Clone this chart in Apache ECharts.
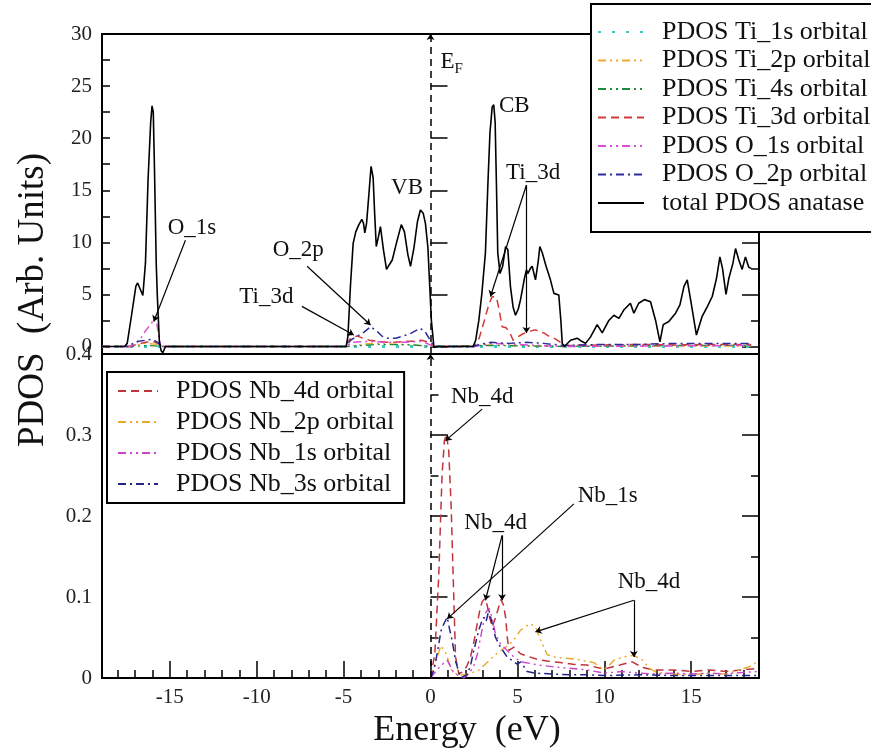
<!DOCTYPE html>
<html>
<head>
<meta charset="utf-8">
<script src="https://cdn.jsdelivr.net/npm/echarts@6/dist/echarts.min.js"></script>
<style>
html,body{margin:0;padding:0;background:#fff;}
#chart{width:871px;height:753px;}
</style>
</head>
<body>
<div id="chart"></div>
<script>
// ---------------- DATA ----------------
// Energy axis (eV)
const xTickLabels = ['-15', '-10', '-5', '0', '5', '10', '15'];
const topYTickLabels = ['0', '5', '10', '15', '20', '25', '30'];
const bottomYTickLabels = ['0', '0.1', '0.2', '0.3', '0.4'];

// Top panel: total PDOS anatase
const totalE = [-18.9,-17.6,-17.45,-17.2,-16.95,-16.85,-16.7,-16.55,-16.4,-16.25,-16.1,-16.02,-15.95,-15.88,-15.78,-15.72,-15.6,-15.5,-15.4,-15.25,
  -4.85,-4.75,-4.6,-4.45,-4.3,-4.12,-3.95,-3.85,-3.78,-3.68,-3.55,-3.42,-3.3,-3.22,-3.12,-3.0,-2.88,-2.7,-2.53,-2.35,-2.2,-1.95,-1.68,-1.5,-1.3,-1.15,-0.95,-0.75,-0.58,-0.42,-0.29,-0.15,-0.05,0.05,0.2,0.35,
  2.45,2.6,2.78,2.95,3.16,3.3,3.42,3.55,3.64,3.72,3.8,3.87,4.0,4.15,4.32,4.45,4.6,4.75,4.89,5.05,5.18,5.4,5.52,5.6,5.75,5.85,6.04,6.2,6.29,6.43,6.65,6.9,7.1,7.38,7.5,7.58,7.7,
  8.06,8.44,8.7,8.92,9.2,9.59,9.88,10.26,10.55,10.84,11.12,11.5,11.7,11.98,12.31,12.66,12.95,13.2,13.39,13.71,14.1,14.35,14.58,14.77,15.0,15.3,15.63,15.92,16.21,16.45,16.65,16.8,17.0,17.16,17.4,17.55,17.74,17.93,18.12,18.31,18.45];
const totalV = [0,0,0.3,3.0,5.8,6.1,5.5,4.9,8,16,21.5,23.1,22.5,17,8.0,5.0,0.5,-0.4,-0.6,0,
  0,1.0,6,9.9,11.0,11.7,12.2,11.8,10.9,11.8,14.5,17.3,16.2,13,9.6,10.5,11.5,9.2,7.4,7.9,8.3,10.0,11.7,11.0,8.8,7.7,9.5,12.0,13.1,12.8,11.8,9.5,6,2.5,-0.1,0,
  0,0.6,2.5,5,9,15.5,20.5,23.0,23.2,21.5,15,9,7,7.7,9.6,9.3,5.75,3.8,3.0,3.6,4.5,6.5,7.36,7.0,7.5,7.7,6.4,8.2,9.6,9.0,7.7,6.4,5.1,4.95,2.5,0.3,0,
  0.6,0.8,0.5,0.3,0.9,2.1,1.3,2.5,3.0,2.7,3.5,4.15,3.2,4.15,4.5,4.3,2.5,0.45,2.1,2.4,3.2,4.0,5.75,6.4,4.15,1.1,2.9,3.8,4.8,6.5,8.6,7.5,5.0,6.5,8.0,9.4,8.3,7.4,8.6,7.6,7.5];

// Top panel: Ti_3d
const ti3dE = [-18.9,-17.3,-16.9,-16.4,-16.0,-15.7,-15.4,-4.9,-4.7,-4.5,-4.2,-3.9,-3.5,-3.0,-2.5,-2.0,-1.5,-1.0,-0.5,-0.1,0.2,
  2.5,2.8,3.1,3.35,3.55,3.8,3.95,4.12,4.35,4.6,4.75,5.0,5.3,5.56,5.8,6.04,6.3,6.52,6.8,7.1,7.4,7.67,8,10,12,14,16,18.45];
const ti3dV = [0,0,0.2,0.4,0.5,0.3,0,0,0.6,0.9,1.0,0.8,0.6,0.5,0.4,0.4,0.5,0.5,0.6,0.4,0,
  0,0.8,2.5,4.0,4.8,4.7,3.5,1.9,1.8,1.2,0.6,0.9,1.2,1.4,1.5,1.6,1.4,1.3,1.0,0.8,0.5,0.1,0.1,0.15,0.2,0.15,0.2,0.2];

// Top panel: O_2p
const o2pE = [-18.9,-17.4,-17.1,-16.8,-16.4,-16.0,-15.7,-15.4,-4.85,-4.6,-4.2,-3.8,-3.45,-3.1,-2.8,-2.5,-2.0,-1.6,-1.2,-0.6,-0.3,-0.05,0.2,
  2.5,2.8,3.5,4.5,5.5,6.5,7.6,10,12,14,16,18.45];
const o2pV = [0,0,0.3,0.5,0.6,0.7,0.4,0,0,0.6,1.0,1.4,1.9,1.5,1.0,0.8,0.8,1.0,1.2,1.75,1.4,0.7,0,
  0,0.2,0.4,0.3,0.4,0.3,0.1,0.2,0.2,0.3,0.3,0.3];

// Top panel: O_1s
const o1sE = [-18.9,-17.3,-17.0,-16.7,-16.4,-16.15,-15.95,-15.8,-15.68,-15.55,-15.4,-4.85,-4.5,-3.5,-2.5,-1.5,-0.5,0.2,2.5,3.5,5,7.6,18.45];
const o1sV = [0,0,0.3,0.7,1.5,2.0,2.5,2.7,1.5,0.3,0,0,0.4,0.5,0.4,0.4,0.5,0,0,0.3,0.2,0,0.1];

// Top panel: Ti_2p, Ti_4s, Ti_1s
const ti2pE = [-18.9,-17.2,-16.5,-15.6,-15.3,-4.8,-3.5,-1.5,0.2,3.5,7.6,18.45];
const ti2pV = [0,0,0.3,0.2,0,0,0.3,0.2,0,0.15,0,0.05];
const ti4sE = [-18.9,-17.2,-16.3,-15.4,-4.8,-3.0,-1.0,0.2,3.5,7.6,14,18.45];
const ti4sV = [0,0,0.1,0,0,0.2,0.15,0,0.1,0,0.1,0.1];
const ti1sE = [-18.9,18.45];
const ti1sV = [0,0];

// Bottom panel: Nb_4d
const nb4dE = [0,0.25,0.48,0.6,0.67,0.8,0.92,1.05,1.19,1.3,1.44,1.63,1.9,2.1,2.3,2.5,2.69,2.85,2.97,3.12,3.26,3.4,3.55,3.75,3.93,4.05,4.12,4.2,4.32,4.42,4.51,4.8,5.18,5.56,6.14,6.71,7.48,8.2,9.0,9.97,10.9,11.6,12.2,12.8,14,15,16,17,18,18.9];
const nb4dV = [0,0.03,0.129,0.21,0.252,0.293,0.301,0.28,0.211,0.129,0.026,0.005,0.008,0.015,0.026,0.045,0.067,0.085,0.094,0.098,0.09,0.075,0.063,0.075,0.088,0.097,0.098,0.09,0.075,0.05,0.034,0.038,0.030,0.027,0.023,0.021,0.019,0.017,0.016,0.011,0.016,0.02,0.013,0.01,0.01,0.008,0.01,0.008,0.01,0.012];

// Bottom panel: Nb_2p
const nb2pE = [0,0.3,0.6,0.9,1.2,1.6,2.2,2.8,3.3,3.8,4.3,4.6,4.9,5.18,5.5,5.75,6.04,6.33,6.71,7.1,7.48,8.0,8.44,8.9,9.4,9.7,9.97,10.3,10.55,11.12,11.7,12.2,12.6,13,14,15,16,17,17.8,18.5,18.9];
const nb2pV = [0,0.02,0.04,0.03,0.01,0.003,0.005,0.01,0.02,0.03,0.038,0.043,0.05,0.059,0.064,0.067,0.063,0.047,0.029,0.026,0.025,0.024,0.023,0.021,0.019,0.014,0.01,0.016,0.022,0.026,0.028,0.022,0.012,0.007,0.005,0.004,0.006,0.005,0.01,0.015,0.022];

// Bottom panel: Nb_1s
const nb1sE = [0,0.3,0.58,0.96,1.34,1.92,2.2,2.49,2.7,2.88,3.16,3.36,3.55,3.74,4.03,4.41,4.8,5.18,5.7,6.2,7,8,9,10,11,12,13,14,15,16,17,18,18.9];
const nb1sV = [0,0.008,0.015,0.022,0.006,0,0.005,0.015,0.03,0.05,0.08,0.086,0.074,0.054,0.042,0.034,0.026,0.02,0.018,0.016,0.014,0.012,0.01,0.006,0.008,0.006,0.005,0.006,0.005,0.006,0.005,0.007,0.008];

// Bottom panel: Nb_3s
const nb3sE = [0,0.2,0.4,0.6,0.77,0.96,1.1,1.25,1.44,1.73,2.1,2.3,2.49,2.78,2.95,3.07,3.2,3.36,3.55,3.74,4.03,4.41,4.99,5.2,5.56,6.0,7,8,9,10,12,14,16,18.9];
const nb3sV = [0,0.01,0.032,0.058,0.067,0.075,0.06,0.046,0.021,0,0.004,0.015,0.034,0.059,0.07,0.075,0.07,0.084,0.067,0.05,0.038,0.026,0.017,0.02,0.008,0.006,0.005,0.004,0.004,0.003,0.004,0.003,0.003,0.003];

// Annotations (data coordinates)
const topLabelText = ['O_1s', 'O_2p', 'Ti_3d', 'VB', 'CB', 'Ti_3d'];
const topLabelE = [-15.15, -9.11, -11.03, -2.3, 3.91, 4.32];
const topLabelV = [11.4, 9.3, 4.76, 15.2, 23.1, 16.7];
const topArrowFrom = [[-14.1, 10.2], [-7.1, 7.7], [-7.4, 3.85], [5.52, 15.5], [5.52, 15.5]];
const topArrowTo = [[-15.92, 2.4], [-3.45, 2.07], [-4.41, 1.1], [3.45, 4.8], [5.52, 1.3]];
const efLabelE = 0.55, efLabelV = 27.3;

const botLabelText = ['Nb_4d', 'Nb_1s', 'Nb_4d', 'Nb_4d'];
const botLabelE = [1.15, 8.44, 1.92, 10.74];
const botLabelV = [0.347, 0.225, 0.191, 0.119];
const botArrowFrom = [[2.97, 0.332], [8.25, 0.215], [4.12, 0.176], [4.12, 0.176], [11.7, 0.096], [11.7, 0.096]];
const botArrowTo = [[0.86, 0.293], [0.96, 0.073], [3.16, 0.096], [4.12, 0.096], [6.04, 0.057], [11.7, 0.026]];

// ---------------- CHART ----------------
const FONT = "'Liberation Serif', 'Times New Roman', serif";
const zip = (xs, ys) => xs.map((x, i) => [x, ys[i]]);
const XMIN = -18.9, XMAX = 18.9;
const isMult = (v, step) => Math.abs(v / step - Math.round(v / step)) < 1e-6;

const chart = echarts.init(document.getElementById('chart'), null, {renderer: 'canvas'});

function tickAxisY(grid, pos, step, len, labels, extra) {
  return Object.assign({
    type: 'value', gridIndex: grid, position: pos,
    minInterval: step, maxInterval: step,
    axisLine: {show: false},
    splitLine: {show: false},
    axisTick: {show: true, inside: true, length: len, lineStyle: {color: '#000', width: 1.5}},
    axisLabel: labels ? {
      show: true, fontSize: 21, fontFamily: FONT, color: '#222', margin: 10,
      formatter: v => isMult(v, step) ? labels[Math.round(v / step)] : ''
    } : {show: false}
  }, extra);
}

const lineSeries = (name, xi, yi, data, color, type, width, extra) => Object.assign({
  name, type: 'line', xAxisIndex: xi, yAxisIndex: yi, data,
  symbol: 'none', smooth: false, animation: false,
  lineStyle: {color, type, width}, itemStyle: {color}
}, extra);

const textPoint = (text, e, v) => ({
  name: text, coord: [e, v], symbol: 'circle', symbolSize: 1,
  itemStyle: {color: 'rgba(0,0,0,0)'},
  label: {show: true, position: 'right', distance: 0, formatter: text,
    color: '#111', fontSize: 23, fontFamily: FONT}
});
const arrowLine = (a, b) => [{coord: a}, {coord: b}];
const fermi = {xAxis: 0, symbol: 'none', lineStyle: {color: '#000', type: [7, 5], width: 1.5}};

const arrowStyle = {color: '#000', width: 1.2, type: 'solid'};

const topMarkLine = {
  silent: true, animation: false, symbol: ['none', 'arrow'], symbolSize: 6,
  label: {show: false}, lineStyle: arrowStyle,
  data: [fermi].concat(topArrowFrom.map((a, i) => arrowLine(a, topArrowTo[i])))
};
const topMarkPoint = {
  silent: true, animation: false,
  data: topLabelText.map((t, i) => textPoint(t, topLabelE[i], topLabelV[i])).concat([{
    name: 'EF', coord: [efLabelE, efLabelV], symbol: 'circle', symbolSize: 1,
    itemStyle: {color: 'rgba(0,0,0,0)'},
    label: {show: true, position: 'right', distance: 0, formatter: '{e|E}{f|F}',
      rich: {e: {fontSize: 23, fontFamily: FONT, color: '#111'},
             f: {fontSize: 15, fontFamily: FONT, color: '#111', padding: [14, 0, 0, 0]}}}
  }])
};
const botMarkLine = {
  silent: true, animation: false, symbol: ['none', 'arrow'], symbolSize: 6,
  label: {show: false}, lineStyle: arrowStyle,
  data: [fermi].concat(botArrowFrom.map((a, i) => arrowLine(a, botArrowTo[i])))
};
const botMarkPoint = {
  silent: true, animation: false,
  data: botLabelText.map((t, i) => textPoint(t, botLabelE[i], botLabelV[i]))
};

const topNames = ['PDOS Ti_1s orbital', 'PDOS Ti_2p orbital', 'PDOS Ti_4s orbital', 'PDOS Ti_3d orbital',
  'PDOS O_1s orbital', 'PDOS O_2p orbital', 'total PDOS anatase'];
const botNames = ['PDOS Nb_4d orbital', 'PDOS Nb_2p orbital', 'PDOS Nb_1s orbital', 'PDOS Nb_3s orbital'];

const DDOT = [8, 4, 2, 4, 2, 4];
const DOT1 = [8, 4, 2, 4];

const option = {
  animation: false,
  backgroundColor: '#fff',
  grid: [
    {left: 102, right: 112, top: 34, height: 320, show: true, borderColor: '#000', borderWidth: 2, backgroundColor: 'transparent'},
    {left: 102, right: 112, top: 354, height: 324, show: true, borderColor: '#000', borderWidth: 2, backgroundColor: 'transparent'}
  ],
  xAxis: [
    {type: 'value', gridIndex: 0, min: XMIN, max: XMAX, show: false},
    {type: 'value', gridIndex: 1, min: XMIN, max: XMAX, position: 'bottom',
      minInterval: 5, maxInterval: 5,
      axisLine: {show: false}, splitLine: {show: false},
      axisTick: {show: true, inside: true, length: 17, lineStyle: {color: '#000', width: 1.5}},
      axisLabel: {show: true, fontSize: 21, fontFamily: FONT, color: '#222', margin: 9,
        formatter: v => isMult(v, 5) ? xTickLabels[Math.round(v / 5) + 3] : ''}},
    {type: 'value', gridIndex: 1, min: XMIN, max: XMAX, position: 'bottom',
      minInterval: 1, maxInterval: 1,
      axisLine: {show: false}, splitLine: {show: false},
      axisTick: {show: true, inside: true, length: 8, lineStyle: {color: '#000', width: 1.5}},
      axisLabel: {show: false}}
  ],
  yAxis: [
    tickAxisY(0, 'left', 5, 17, topYTickLabels, {min: -0.72, max: 30}),
    tickAxisY(0, 'left', 2.5, 8, null, {min: -0.72, max: 30}),
    tickAxisY(0, 'right', 5, 17, null, {min: -0.72, max: 30}),
    tickAxisY(0, 'right', 2.5, 8, null, {min: -0.72, max: 30}),
    tickAxisY(1, 'left', 0.1, 17, bottomYTickLabels, {min: 0, max: 0.4}),
    tickAxisY(1, 'left', 0.05, 8, null, {min: 0, max: 0.4}),
    tickAxisY(1, 'right', 0.1, 17, null, {min: 0, max: 0.4}),
    tickAxisY(1, 'right', 0.05, 8, null, {min: 0, max: 0.4})
  ],
  legend: [
    {data: topNames, orient: 'vertical', left: 591, top: 4, padding: [15, 12, 16, 6],
      itemWidth: 46, itemHeight: 14, itemGap: 2.5,
      itemStyle: {opacity: 0},
      backgroundColor: '#fff', borderColor: '#000', borderWidth: 2, borderRadius: 0,
      selectedMode: false,
      textStyle: {fontSize: 26, lineHeight: 26, fontFamily: FONT, color: '#111', padding: [0, 0, 0, 13]}},
    {data: botNames, orient: 'vertical', left: 107, top: 372, padding: [6, 10, 6, 10],
      itemWidth: 40, itemHeight: 14, itemGap: 5,
      itemStyle: {opacity: 0},
      backgroundColor: '#fff', borderColor: '#000', borderWidth: 2, borderRadius: 0,
      selectedMode: false,
      textStyle: {fontSize: 26, lineHeight: 26, fontFamily: FONT, color: '#111', padding: [0, 0, 0, 13]}}
  ],
  graphic: [
    {type: 'text', x: 33, y: 300, rotation: Math.PI / 2,
      style: {text: 'PDOS  (Arb. Units)', font: '37px ' + FONT, fill: '#111', textAlign: 'center', textVerticalAlign: 'middle'}},
    {type: 'text', x: 467, y: 731,
      style: {text: 'Energy  (eV)', font: '36px ' + FONT, fill: '#111', textAlign: 'center', textVerticalAlign: 'middle'}}
  ],
  series: [
    lineSeries(topNames[0], 0, 0, zip(ti1sE, ti1sV), '#3cc8c0', [3, 11], 3),
    lineSeries(topNames[1], 0, 0, zip(ti2pE, ti2pV), '#f0a830', DDOT, 1.3),
    lineSeries(topNames[2], 0, 0, zip(ti4sE, ti4sV), '#1f8a3c', DDOT, 1.3),
    lineSeries(topNames[3], 0, 0, zip(ti3dE, ti3dV), '#d43a3a', [8, 5], 1.5),
    lineSeries(topNames[4], 0, 0, zip(o1sE, o1sV), '#d84cd8', DDOT, 1.5),
    lineSeries(topNames[5], 0, 0, zip(o2pE, o2pV), '#2c2c9c', DOT1, 1.5),
    lineSeries(topNames[6], 0, 0, zip(totalE, totalV), '#000', 'solid', 1.6,
      {markLine: topMarkLine, markPoint: topMarkPoint}),
    lineSeries(botNames[0], 1, 4, zip(nb4dE, nb4dV), '#c0343c', [8, 5], 1.5,
      {markLine: botMarkLine, markPoint: botMarkPoint}),
    lineSeries(botNames[1], 1, 4, zip(nb2pE, nb2pV), '#e8a828', DDOT, 1.4),
    lineSeries(botNames[2], 1, 4, zip(nb1sE, nb1sV), '#cc44cc', DDOT, 1.4),
    lineSeries(botNames[3], 1, 4, zip(nb3sE, nb3sV), '#24248c', DOT1, 1.5)
  ]
};
chart.setOption(option);
</script>
</body>
</html>
